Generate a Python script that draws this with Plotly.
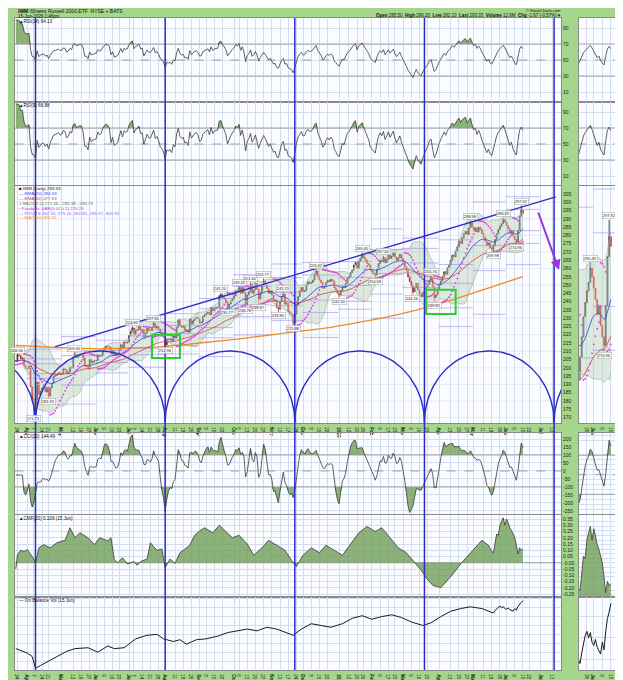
import numpy as np
import pandas as pd
import plotly.graph_objects as go

# ============================ DATA ============================
holidays = ["2025-04-18", "2025-05-26", "2025-06-19", "2025-07-04", "2025-09-01",
            "2025-11-27", "2025-12-25", "2026-01-01", "2026-01-19", "2026-02-16",
            "2026-04-03", "2026-05-25", "2026-06-19", "2026-07-03"]
first_session = "2025-03-21"
last_session = "2026-06-15"
axis_last_session = "2026-07-31"
session_zero = "2025-04-08"
first_open = 204.5

# daily closes
close_2025_03 = [204.0, 207.9, 207.6, 205.5, 205.9, 201.3, 199.5,
                 199.5, 201.0, 188.6, 181.2, 181.0]
close_2025_04 = [176.7, 191.4, 183.8, 186.0, 187.9, 188.0, 185.4, 187.3,
                 183.0, 187.9, 190.6, 194.9, 195.3, 196.0, 197.1, 196.0]
close_2025_05 = [196.5, 199.5, 199.0, 196.5, 197.5, 200.5, 199.9, 206.5, 207.7, 206.3,
                 207.3, 208.0, 207.9, 206.2, 200.9, 200.9, 199.3, 205.0, 203.0, 204.0, 204.2]
close_2025_06 = [204.5, 207.8, 207.0, 207.5, 210.5, 212.2, 213.2, 213.0, 212.3, 208.3,
                 210.5, 207.5, 208.0, 208.5, 211.0, 214.0, 212.0, 215.5, 215.0, 215.5]
close_2025_07 = [219.5, 222.0, 224.0, 220.0, 222.5, 223.0, 225.0, 222.5, 223.0, 218.5, 221.0,
                 224.0, 222.6, 222.5, 224.5, 227.0, 224.0, 225.0, 223.5, 221.0, 220.0, 218.5]
close_2025_08 = [214.0, 217.5, 217.0, 217.5, 216.0, 219.0, 218.0, 224.5, 229.0, 225.5, 224.5,
                 225.0, 222.5, 223.0, 221.5, 229.5, 226.5, 228.5, 230.0, 230.5, 229.5]
close_2025_09 = [227.0, 227.5, 231.0, 232.0, 233.0, 233.5, 232.0, 236.5, 234.5, 236.0, 236.5,
                 236.5, 243.5, 244.0, 242.5, 241.5, 240.0, 236.5, 238.5, 240.5, 242.0]
close_2025_10 = [243.5, 246.5, 246.0, 248.5, 245.0, 248.5, 245.5, 238.0, 244.0, 246.0, 250.5, 245.0,
                 247.0, 251.0, 247.5, 241.5, 245.5, 249.5, 252.5, 250.5, 248.0, 245.0, 246.5]
close_2025_11 = [244.0, 240.5, 241.0, 236.5, 235.5, 240.0, 243.0, 244.5, 238.5, 239.0,
                 234.0, 233.0, 232.0, 227.5, 232.5, 238.0, 243.0, 246.5, 248.5]
close_2025_12 = [246.0, 246.5, 250.0, 252.0, 251.0, 251.5, 253.0, 256.5, 258.5, 255.0, 253.0,
                 251.5, 248.0, 249.0, 251.5, 253.0, 252.0, 253.5, 252.5, 248.5, 247.0, 245.0]
close_2026_01 = [244.0, 246.5, 249.0, 248.5, 251.0, 254.0, 255.0, 257.5, 259.0, 262.0,
                 263.5, 260.0, 264.5, 266.0, 268.0, 266.5, 265.0, 263.0, 262.0, 259.0]
close_2026_02 = [258.0, 257.0, 256.0, 259.5, 263.0, 265.0, 264.0, 266.5, 263.5, 265.5,
                 268.0, 266.0, 267.5, 269.5, 267.0, 265.0, 266.5, 268.5, 266.0]
close_2026_03 = [264.0, 261.0, 258.5, 255.0, 252.0, 249.5, 246.0, 248.5, 251.0, 247.0, 244.5,
                 243.0, 245.5, 247.0, 249.0, 250.5, 253.0, 254.0, 249.0, 242.5, 244.0, 247.5]
close_2026_04 = [250.0, 252.5, 255.0, 258.0, 256.5, 260.5, 262.0, 265.0, 268.0, 267.0, 270.5,
                 273.0, 276.5, 275.0, 278.5, 281.0, 282.5, 280.5, 284.5, 287.5, 285.0]
close_2026_05 = [283.0, 284.5, 282.0, 285.0, 283.5, 281.0, 279.0, 276.5, 274.0, 275.5,
                 272.5, 271.5, 274.0, 277.5, 281.0, 283.5, 285.5, 287.0, 289.5, 288.0]
close_2026_06 = [286.0, 284.0, 281.5, 283.0, 279.5, 277.5, 276.0, 283.0, 291.5, 295.0, 293.33]

# swing high / low labels printed on the chart
label_dates = ["2025-03-24", "2025-04-07", "2025-04-21", "2025-05-13", "2025-07-03", "2025-07-23",
               "2025-08-01", "2025-09-19", "2025-09-25", "2025-10-06", "2025-10-10", "2025-10-15",
               "2025-10-22", "2025-10-27", "2025-11-07", "2025-11-12", "2025-11-20", "2025-12-11",
               "2026-01-02", "2026-01-23", "2026-02-04", "2026-02-11", "2026-03-10", "2026-03-25",
               "2026-03-27", "2026-04-29", "2026-05-19", "2026-05-28", "2026-06-09", "2026-06-12"]
label_kind = ["H", "L", "L", "H", "H", "H", "L", "H", "L", "H", "L", "H", "L", "H", "L",
              "H", "L", "H", "L", "H", "L", "H", "L", "H", "L", "H", "L", "H", "L", "H"]
label_vals = [208.36, 171.73, 181.92, 209.45, 224.92, 227.66, 212.96, 245.20, 235.77, 249.42,
              236.76, 251.60, 238.87, 253.77, 233.80, 245.73, 225.88, 259.37, 242.50, 269.45,
              254.58, 267.62, 244.26, 255.70, 239.82, 288.98, 269.98, 290.49, 274.96, 297.92]

# 200-day moving average (orange)
sma200_dates = ["2025-03-21", "2025-04-08", "2025-05-06", "2025-06-05", "2025-07-07", "2025-08-04",
                "2025-09-02", "2025-09-30", "2025-10-28", "2025-11-25", "2025-12-24", "2026-01-26",
                "2026-02-24", "2026-03-24", "2026-04-22", "2026-05-20", "2026-06-15"]
sma200_vals = [213.5, 213.0, 212.0, 211.5, 212.0, 213.0, 215.0, 217.0, 219.5, 222.0, 224.5,
               228.0, 232.0, 237.0, 243.0, 249.5, 255.10]

# Chaikin Money Flow (session number counted from 8-Apr-2025)
cmf_session = [-12, -11, -9, -7, -5, -3, -1, 0, 2, 5, 9, 13, 18, 21, 24, 27, 32, 36, 39, 44,
               46, 48, 50, 53, 56, 60, 62, 64, 68, 70, 74, 77, 79, 82, 85, 88, 94, 97, 100, 103,
               108, 112, 115, 120, 124, 129, 133, 138, 142, 147, 152, 156, 159, 163, 168, 173,
               177, 182, 187, 192, 197, 202, 207, 211, 216, 221, 226, 230, 235, 238, 242, 247,
               251, 255, 259, 264, 268, 272, 276,
               278, 279, 280, 281, 282, 283, 284, 285, 286, 287, 288, 289, 290, 291, 292, 293,
               294, 295, 296, 297]
cmf_vals = [-0.05, 0.066, 0.10, 0.09, 0.105, 0.07, 0.03, -0.005, 0.12, 0.145, 0.12, 0.16, 0.18,
            0.28, 0.20, 0.24, 0.20, 0.145, 0.20, 0.176, 0.20, 0.026, 0.0, 0.04, -0.01, 0.01, -0.02,
            0.01, 0.03, 0.16, 0.10, 0.11, -0.04, 0.03, -0.005, 0.08, 0.14, 0.22, 0.255, 0.28,
            0.24, 0.30, 0.26, 0.20, 0.22, 0.15, 0.06, 0.12, 0.18, 0.14, 0.10, 0.02, -0.03, 0.06,
            0.12, 0.08, 0.14, 0.10, 0.06, 0.15, 0.24, 0.29, 0.25, 0.28, 0.20, 0.12, 0.08, 0.02,
            -0.06, -0.12, -0.18, -0.20, -0.14, -0.08, -0.01, 0.06, 0.12, 0.18, 0.14,
            0.09, 0.08, 0.16, 0.23, 0.22, 0.30, 0.33, 0.36, 0.30, 0.35, 0.32, 0.28, 0.26, 0.23,
            0.20, 0.14, 0.07, 0.12, 0.10, 0.109]

# On Balance Volume (millions, arbitrary base)
obv_session = [-12, -9, -5, -2, 0, 3, 7, 13, 19, 24, 32, 38, 44, 48, 54, 61, 68, 74, 78, 84,
               88, 92, 98, 104, 111, 117, 123, 129, 135, 141, 147, 153, 157, 162, 168, 174, 180,
               187, 193, 199, 205, 211, 217, 223, 229, 236, 241, 247, 253, 259, 265, 272,
               278, 279, 280, 281, 282, 283, 284, 285, 286, 287, 288, 289, 290, 291, 292, 293,
               294, 295, 296, 297]
obv_vals = [240, 220, 190, 150, 20, 50, 90, 150, 210, 240, 250, 200, 270, 240, 250, 350, 390,
            400, 350, 320, 340, 290, 340, 350, 380, 420, 440, 460, 440, 480, 460, 420, 390, 460,
            520, 500, 480, 520, 580, 610, 570, 600, 620, 590, 540, 500, 530, 600, 660, 690, 710,
            690,
            650, 640, 665, 690, 705, 715, 700, 712, 690, 682, 696, 678, 670, 662, 690, 672, 715,
            745, 760, 780]

# drawing-tool annotations
cycle_dates = ["2025-04-08", "2025-08-01", "2025-11-21", "2026-03-19", "2026-07-14"]
cycle_arc_top = 210.2
trend_dates = ["2025-04-25", "2026-07-15"]
trend_prices = [212.8, 303.3]
arrow_dates = ["2026-06-29", "2026-07-17"]
arrow_prices = [294.7, 259.1]
box_dates = [("2025-07-22", "2025-08-14"), ("2026-03-20", "2026-04-16")]
box_prices = [(206.0, 220.0), (232.5, 247.2)]

# x-axis ticks
tick_dates = ["2025-03-24", "2025-04-01", "2025-04-07", "2025-04-14", "2025-04-21", "2025-05-01",
              "2025-05-12", "2025-05-19", "2025-05-27", "2025-06-02", "2025-06-09", "2025-06-16",
              "2025-06-23", "2025-07-01", "2025-07-07", "2025-07-14", "2025-07-21", "2025-07-28",
              "2025-08-01", "2025-08-11", "2025-08-18", "2025-08-25", "2025-09-02", "2025-09-08",
              "2025-09-15", "2025-09-22", "2025-10-01", "2025-10-06", "2025-10-13", "2025-10-20",
              "2025-10-27", "2025-11-03", "2025-11-10", "2025-11-17", "2025-11-24", "2025-12-01",
              "2025-12-08", "2025-12-15", "2025-12-22", "2026-01-02", "2026-01-12", "2026-01-20",
              "2026-01-26", "2026-02-02", "2026-02-09", "2026-02-17", "2026-02-23", "2026-03-02",
              "2026-03-09", "2026-03-16", "2026-03-23", "2026-04-01", "2026-04-13", "2026-04-20",
              "2026-04-27", "2026-05-01", "2026-05-11", "2026-05-18", "2026-05-26", "2026-06-01",
              "2026-06-08", "2026-06-15", "2026-06-22", "2026-07-01", "2026-07-13"]
tick_text = ["24", "Apr", "7", "14", "21", "May", "12", "19", "27", "Jun", "9", "16", "23", "Jul",
             "7", "14", "21", "28", "Aug", "11", "18", "25", "Sep", "8", "15", "22", "Oct", "6",
             "13", "20", "27", "Nov", "10", "17", "24", "Dec", "8", "15", "22", "2026", "12", "20",
             "26", "Feb", "9", "17", "23", "Mar", "9", "16", "23", "Apr", "13", "20", "27", "May",
             "11", "18", "26", "Jun", "8", "15", "22", "Jul", "13"]
mini_tick_dates = ["2026-05-26", "2026-06-01", "2026-06-08", "2026-06-15"]
mini_tick_text = ["26", "Jun", "8", "15"]

header_title = "<b>IWM</b> iShares Russell 2000 ETF  NYSE + BATS"
header_date = "15-Jun-2026 1:46pm"
header_quote = ["295.50", "296.20", "292.10", "12.6M"]   # open, high, low, volume

# ============================ PREP ============================
cal = pd.bdate_range(first_session, axis_last_session, freq="C", holidays=holidays)
zero = cal.get_loc(pd.Timestamp(session_zero))


def sess(d):
    return cal.get_loc(pd.Timestamp(d)) - zero


closes = np.array(close_2025_03 + close_2025_04 + close_2025_05 + close_2025_06 + close_2025_07 +
                  close_2025_08 + close_2025_09 + close_2025_10 + close_2025_11 + close_2025_12 +
                  close_2026_01 + close_2026_02 + close_2026_03 + close_2026_04 + close_2026_05 +
                  close_2026_06)
s0 = sess(first_session)
assert sess(last_session) - s0 + 1 == len(closes), (sess(last_session) - s0 + 1, len(closes))
xs = np.arange(len(closes)) + s0
opens = np.r_[first_open, closes[:-1]]
highs = np.maximum(opens, closes)
lows = np.minimum(opens, closes)
for d, k, v in zip(label_dates, label_kind, label_vals):
    j = sess(d) - s0
    if k == "H":
        highs[j] = max(highs[j], v)
    else:
        lows[j] = min(lows[j], v)

cs = pd.Series(closes)
ema20 = cs.ewm(span=20, adjust=False).mean().values
ema50 = cs.ewm(span=50, adjust=False).mean().values
bb_mid = cs.rolling(20, min_periods=5).mean()
bb_sd = cs.rolling(20, min_periods=5).std(ddof=0)
bb_up = (bb_mid + 2 * bb_sd).values
bb_lo = (bb_mid - 2 * bb_sd).values
bb_mid = bb_mid.values


def rsi(c, n):
    d = pd.Series(c).diff()
    up = d.clip(lower=0).ewm(alpha=1 / n, adjust=False).mean()
    dn = (-d.clip(upper=0)).ewm(alpha=1 / n, adjust=False).mean()
    return (100 - 100 / (1 + up / dn)).bfill().values


RSI_FAST = 9
rsi14 = rsi(closes, 14)
rsi_fast = rsi(closes, RSI_FAST)
tp = pd.Series((highs + lows + closes) / 3)
tp_sma = tp.rolling(20, min_periods=5).mean()
tp_md = tp.rolling(20, min_periods=5).apply(lambda v: np.mean(np.abs(v - v.mean())), raw=True)
cci = ((tp - tp_sma) / (0.015 * tp_md)).bfill().values


def psar(hi, lo, step=0.02, mx=0.2):
    n = len(hi)
    out = np.empty(n)
    bull, af, ep, sar = True, step, hi[0], lo[0] - 2
    out[0] = sar
    for i in range(1, n):
        sar = sar + af * (ep - sar)
        if bull:
            sar = min(sar, lo[i - 1], lo[i - 2] if i > 1 else lo[i - 1])
            if lo[i] < sar:
                bull, sar, ep, af = False, ep, lo[i], step
            elif hi[i] > ep:
                ep, af = hi[i], min(af + step, mx)
        else:
            sar = max(sar, hi[i - 1], hi[i - 2] if i > 1 else hi[i - 1])
            if hi[i] > sar:
                bull, sar, ep, af = True, ep, hi[i], step
            elif lo[i] < ep:
                ep, af = lo[i], min(af + step, mx)
        out[i] = sar
    return out


sar = psar(highs, lows)

# monthly pivot points
data_dates = cal[(cal >= pd.Timestamp(first_session)) & (cal <= pd.Timestamp(last_session))]
mon = np.array(data_dates.to_period("M"))
cal_mon = np.array(cal.to_period("M"))
ums = list(dict.fromkeys(mon))
piv_x, piv_y, last_levels = [], [], []
for a, b in zip(ums[:-1], ums[1:]):
    m = mon == a
    hh, ll, cc = highs[m].max(), lows[m].min(), closes[m][-1]
    p = (hh + ll + cc) / 3
    levels = [p - (hh - ll), 2 * p - hh, p, 2 * p - ll, p + (hh - ll)]
    span = np.where(cal_mon == b)[0] - zero
    for lv in levels:
        piv_x += [span[0] - 0.5, span[-1] + 0.5, None]
        piv_y += [lv, lv, None]
    last_levels = levels

cyc = [sess(d) for d in cycle_dates]
sma_x = [sess(d) for d in sma200_dates]

# ============================ FIGURE ============================
W, H = 623, 680
FONT = "Liberation Sans"
GREEN = "#a4d68c"
BG = "#fbfcff"
GRID = "#d2deee"
AXL = "#8a8a8a"
LINE = "#3a3a3a"
FILL = "rgba(112,158,88,0.8)"
BLUE = "#2b2bc8"


def fx(px):
    return px / W


def fy(px):
    return 1 - px / H


MAIN = [fx(7), fx(553)]
MINI = [fx(571), fx(608)]
PANELS = [(10, 94), (94, 177), (178, 415), (425, 506), (507, 589), (589, 662)]
XR_MAIN = [-12.5, 320.2]
XR_MINI = [278.4, 300.0]
YR = [[-2.5, 102.5], [-1.25, 102.5], [166.7, 309.8], [-269, 237.5], [-0.274, 0.382], [0, 820]]
YR_MINI = [[-2.5, 102.5], [-1.25, 102.5], [262.45, 303.85], [-200, 212], [0.051, 0.41], [625, 795]]


def xa(i):
    return "x" if i == 1 else f"x{i}"


def ya(i):
    return "y" if i == 1 else f"y{i}"


fig = go.Figure()


def add(tr, i):
    tr.update(xaxis=xa(i), yaxis=ya(i), showlegend=False, hoverinfo="skip")
    fig.add_trace(tr)


def band(xv, yv, lvl, above, i):
    base = np.full(len(yv), float(lvl))
    clip = np.maximum(yv, lvl) if above else np.minimum(yv, lvl)
    add(go.Scatter(x=xv, y=base, mode="lines", line=dict(width=0)), i)
    add(go.Scatter(x=xv, y=clip, mode="lines", line=dict(width=0), fill="tonexty", fillcolor=FILL), i)


def hline(i, lvl, dash="solid", color="#9a9a9a", width=0.9):
    add(go.Scatter(x=[-1000, 1000], y=[lvl, lvl], mode="lines",
                   line=dict(color=color, width=width, dash=dash)), i)


# arcs (cycle drawing tool)
t = np.linspace(0, np.pi, 90)
spans = [(2 * cyc[0] - cyc[1], cyc[0])] + list(zip(cyc[:-1], cyc[1:])) + [(cyc[-1], 2 * cyc[-1] - cyc[-2])]
arc_x, arc_y = [], []
arc_base = YR[2][0] + 0.3
for a, b in spans:
    c, w = (a + b) / 2, (b - a) / 2
    arc_x += list(c - w * np.cos(t)) + [None]
    arc_y += list(arc_base + (cycle_arc_top - arc_base) * np.sin(t)) + [None]

for off in (0, 6):
    mini = off == 6
    for p, series in ((1, rsi14), (2, rsi_fast)):
        i = p + off
        band(xs, series, 70, True, i)
        band(xs, series, 30, False, i)
        hline(i, 70)
        hline(i, 30)
        hline(i, 50, "dash")
        add(go.Scatter(x=xs, y=series, mode="lines", line=dict(color=LINE, width=0.8)), i)
    i = 3 + off
    if not mini:
        for v in range(170, 310, 10):
            hline(i, v, color=GRID, width=0.6)
    add(go.Scatter(x=xs, y=bb_up, mode="lines", line=dict(color="#9aab9a", width=0.6)), i)
    add(go.Scatter(x=xs, y=bb_lo, mode="lines", line=dict(color="#9aab9a", width=0.6),
                   fill="tonexty", fillcolor="rgba(185,208,185,0.45)"), i)
    add(go.Scatter(x=piv_x, y=piv_y, mode="lines", line=dict(color="rgba(160,140,230,0.75)", width=0.8)), i)
    if not mini:
        add(go.Scatter(x=sma_x, y=sma200_vals, mode="lines",
                       line=dict(color="#f08a24", width=1.3, shape="spline")), i)
        add(go.Scatter(x=arc_x, y=arc_y, mode="lines", line=dict(color=BLUE, width=1.4)), i)
    add(go.Scatter(x=xs, y=ema50, mode="lines", line=dict(color="#d04040", width=0.8)), i)
    add(go.Scatter(x=xs, y=ema20, mode="lines", line=dict(color="#3344dd", width=0.8)), i)
    add(go.Candlestick(x=xs, open=opens, high=highs, low=lows, close=closes, whiskerwidth=0,
                       increasing=dict(line=dict(color="#111111", width=0.8), fillcolor="rgba(255,255,255,0.9)"),
                       decreasing=dict(line=dict(color="#e01515", width=0.8), fillcolor="#e01515")), i)
    add(go.Scatter(x=xs, y=sar, mode="markers", marker=dict(color="#e03ae0", size=1.8)), i)
    if not mini:
        add(go.Scatter(x=[sess(d) for d in trend_dates], y=trend_prices, mode="lines",
                       line=dict(color=BLUE, width=1.3)), i)
    i = 4 + off
    band(xs, cci, 100, True, i)
    band(xs, cci, -100, False, i)
    hline(i, 100)
    hline(i, -100)
    hline(i, 0, "dash")
    add(go.Scatter(x=xs, y=cci, mode="lines", line=dict(color=LINE, width=0.8)), i)
    i = 5 + off
    hline(i, 0)
    add(go.Scatter(x=cmf_session, y=cmf_vals, mode="lines", line=dict(color=LINE, width=0.8),
                   fill="tozeroy", fillcolor=FILL), i)
    i = 6 + off
    add(go.Scatter(x=obv_session, y=obv_vals, mode="lines", line=dict(color="#1a1a1a", width=1.0)), i)

# value boxes on the mini panels (axis index, value, colour)
boxes = [(7, rsi14[-1], "#4a4a4a"), (8, rsi_fast[-1], "#4a4a4a"), (9, closes[-1], "#111"),
         (9, ema20[-1], "#3344dd"), (9, ema50[-1], "#d04040"), (9, sar[-1], "#d030d0"),
         (9, last_levels[-1], "#8a6ae8"), (9, last_levels[1], "#8a6ae8"), (10, cci[-1], "#4a4a4a"),
         (11, cmf_vals[-1], "#4a4a4a")]

tick_x = [sess(d) for d in tick_dates]
tick_lbl = [f"<b>{s}</b>" if not s.isdigit() or len(s) == 4 else s for s in tick_text]
mtick_x = [sess(d) for d in mini_tick_dates]
mtick_lbl = [f"<b>{s}</b>" if not s.isdigit() else s for s in mini_tick_text]
TF = dict(family=FONT, size=4.6, color="#222")

main_y_ticks = [[10, 30, 50, 70, 90], [10, 30, 50, 70, 90], list(range(170, 306, 5)),
                list(range(-250, 201, 50)), [round(v, 2) for v in np.arange(-0.25, 0.351, 0.05)],
                [100, 200, 300, 400, 500, 600, 700, 800]]
mini_y_ticks = [[10, 30, 50, 70, 90], [10, 30, 50, 70, 90], list(range(263, 304)),
                list(range(-175, 201, 25)), [round(v, 2) for v in np.arange(0.06, 0.39, 0.02)],
                [650, 700, 750]]

lay = dict(width=W, height=H, margin=dict(l=0, r=0, t=0, b=0), paper_bgcolor=GREEN,
           plot_bgcolor=BG, showlegend=False, font=dict(family=FONT, size=5, color="#222"))
for k in range(6):
    for i, dom, xr, tv, tt, yr, ytv, mini in (
            (k + 1, MAIN, XR_MAIN, tick_x, tick_lbl, YR[k], main_y_ticks[k], False),
            (k + 7, MINI, XR_MINI, mtick_x, mtick_lbl, YR_MINI[k], mini_y_ticks[k], True)):
        xk = "xaxis" if i == 1 else f"xaxis{i}"
        yk = "yaxis" if i == 1 else f"yaxis{i}"
        lay[xk] = dict(domain=dom, range=xr, anchor=ya(i), tickvals=tv, ticktext=tt,
                       showticklabels=k in (2, 5), ticks="", ticklen=0, showgrid=True, gridcolor=GRID,
                       gridwidth=0.6, zeroline=False, showline=True, linecolor=AXL, linewidth=1,
                       mirror=True, tickfont=TF, fixedrange=True)
        if k == 2:
            lay[xk]["rangeslider"] = dict(visible=False)
        if mini:
            # leave room for the value boxes on the right of the mini panels
            pix_per_unit = (PANELS[k][1] - PANELS[k][0]) / (yr[1] - yr[0])
            bvals = [v for (bi, v, _) in boxes if bi == i]
            ytv = [v for v in ytv if all(abs(v - b) * pix_per_unit > 5 for b in bvals)]
        if k == 4:
            ytt = [f"{v:.2f}" for v in ytv]
        else:
            ytt = [str(v) for v in ytv]
        lay[yk] = dict(domain=[fy(PANELS[k][1]), fy(PANELS[k][0])], range=yr, anchor=xa(i),
                       side="right", tickvals=ytv, ticktext=ytt, showticklabels=k != 5, ticks="",
                       ticklen=0, showgrid=k != 2, gridcolor=GRID, gridwidth=0.6, zeroline=False,
                       showline=True, linecolor=AXL, linewidth=1, mirror=True,
                       tickfont=dict(family=FONT, size=4.5 if mini else 5, color="#222"),
                       fixedrange=True)

shapes = []
for c in cyc:
    shapes.append(dict(type="line", xref="x", yref="paper", x0=c, x1=c, y0=fy(662), y1=fy(10),
                       line=dict(color=BLUE, width=1.5)))
for (d0, d1), (p0, p1) in zip(box_dates, box_prices):
    shapes.append(dict(type="rect", xref="x3", yref="y3", x0=sess(d0), x1=sess(d1), y0=p0, y1=p1,
                       line=dict(color="#2ecc2e", width=2)))
lay["shapes"] = shapes

ann = []


def txt(x, y, s, color="#111", size=4.6, xanchor="left"):
    ann.append(dict(x=fx(x), y=fy(y), xref="paper", yref="paper", text=s, showarrow=False,
                    xanchor=xanchor, yanchor="middle", font=dict(family=FONT, size=size, color=color)))


txt(8, 3.5, header_title, size=5)
txt(8, 8.5, header_date, size=4.5)
txt(555, 3.0, "© StockCharts.com", size=4, xanchor="right")
chg = closes[-1] - closes[-2]
txt(555, 8.0, (f"<b>Open</b> {header_quote[0]}  <b>High</b> {header_quote[1]}  <b>Low</b> {header_quote[2]}  "
               f"<b>Last</b> {closes[-1]:.2f}  <b>Volume</b> {header_quote[3]}  "
               f"<b>Chg</b> {chg:+.2f} ({chg / closes[-2] * 100:+.2f}%)▼"), size=4.5, xanchor="right")
txt(9, 13.5, f"▲RSI(14) {rsi14[-1]:.2f}", size=4.6)
txt(9, 97.5, f"▲RSI({RSI_FAST}) {rsi_fast[-1]:.2f}", size=4.6)
leg = [("■ IWM (Daily) %.2f" % closes[-1], "#111"),
       ("— EMA(20) %.2f" % ema20[-1], "#3344dd"),
       ("— EMA(50) %.2f" % ema50[-1], "#d04040"),
       ("‡ BB(20,2.0) %.2f - %.2f - %.2f" % (bb_lo[-1], bb_mid[-1], bb_up[-1]), "#557755"),
       ("• Parabolic SAR(0.02,0.2) %.2f" % sar[-1], "#d030d0"),
       ("— PIVOTS " + ", ".join("%.2f" % v for v in last_levels), "#8a6ae8"),
       ("— MA(200) %.2f" % sma200_vals[-1], "#f08a24")]
for n, (s, col) in enumerate(leg):
    txt(9, 181 + 4.8 * n, s, color=col, size=4.4)
txt(9, 428.5, f"▲CCI(20) {cci[-1]:.2f}", size=4.6)
txt(9, 510.5, f"▲CMF(20) {cmf_vals[-1]:.3f} (15 Jun)", size=4.6)
txt(9, 592.5, "— On Balance Vol (15 Jun)", size=4.6)

# swing labels
for d, k, v in zip(label_dates, label_kind, label_vals):
    sx = sess(d)
    for xr_, yr_, mini in (("x3", "y3", False), ("x9", "y9", True)):
        if mini and not (XR_MINI[0] + 1 < sx < XR_MINI[1] - 1 and YR_MINI[2][0] < v < YR_MINI[2][1]):
            continue
        ann.append(dict(x=sx, y=v, xref=xr_, yref=yr_, text=f"{v:.2f}", showarrow=False,
                        yshift=4 if k == "H" else -4, font=dict(family=FONT, size=4, color="#222"),
                        bgcolor="rgba(255,255,255,0.85)", bordercolor="#a0a0a0", borderwidth=0.5,
                        borderpad=0.3))

# arrow
ann.append(dict(x=sess(arrow_dates[1]), y=arrow_prices[1], ax=sess(arrow_dates[0]), ay=arrow_prices[0],
                xref="x3", yref="y3", axref="x3", ayref="y3", showarrow=True, arrowhead=2,
                arrowsize=1, arrowwidth=2, arrowcolor="#9b30e0", text=""))

for i, v, col in boxes:
    fmt = "%.3f" if i == 11 else "%.2f"
    ann.append(dict(x=fx(609), y=v, xref="paper", yref=ya(i), text=fmt % v, showarrow=False,
                    xanchor="left", font=dict(family=FONT, size=4.2, color="white"), bgcolor=col,
                    borderpad=0.4))
lay["annotations"] = ann

fig.update_layout(**lay)
fig.write_html("out.html")
